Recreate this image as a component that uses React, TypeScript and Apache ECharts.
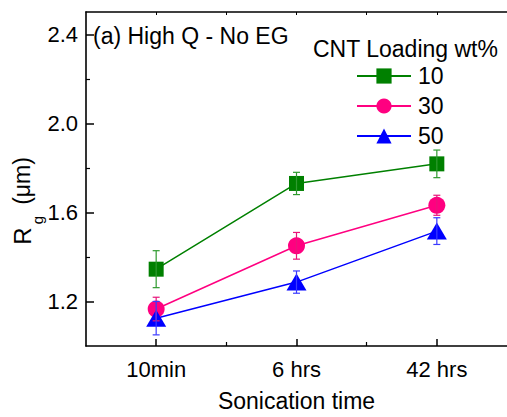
import React, { useEffect, useRef } from "react";
import * as echarts from "echarts";

const categories = ["10min", "6 hrs", "42 hrs"];
const seriesNames = ["10", "30", "50"];
const values10 = [1.345, 1.73, 1.818];
const errors10 = [0.083, 0.05, 0.062];
const values30 = [1.166, 1.45, 1.632];
const errors30 = [0.053, 0.06, 0.045];
const values50 = [1.125, 1.287, 1.516];
const errors50 = [0.075, 0.05, 0.06];
const yMajorTicks = [1.2, 1.6, 2.0, 2.4];
const yMinorTicks = [1.4, 1.8, 2.2];
const xMajorTicks = [1, 2, 3];
const xMinorTicks = [1.5, 2.5];

const FONT = "'Liberation Sans', Arial, sans-serif";
const colors = ["#008000", "#ff0080", "#0000ff"];
const errColors = ["#2f9a2f", "#e8147a", "#3a3aff"];

export default function App() {
  const ref = useRef<HTMLDivElement>(null);
  useEffect(() => {
    document.body.style.margin = "0";
    if (!ref.current) return;
    const chart = echarts.init(ref.current, null, { renderer: "svg" });
    const allVals = [values10, values30, values50];
    const allErrs = [errors10, errors30, errors50];
    const symbols = ["rect", "circle", "triangle"];
    const sizes: any[] = [15, 17, [20, 17]];

    const lineSeries = seriesNames.map((name, k) => ({
      type: "line",
      name,
      xAxisIndex: 0,
      yAxisIndex: 0,
      data: allVals[k].map((v, i) => [i + 1, v]),
      symbol: symbols[k],
      symbolSize: sizes[k],
      itemStyle: { color: colors[k] },
      lineStyle: { color: colors[k], width: 1.5 },
      z: 2,
    }));

    const errSeries = seriesNames.map((name, k) => ({
      type: "custom",
      name: "err" + name,
      xAxisIndex: 0,
      yAxisIndex: 0,
      silent: true,
      z: 4,
      encode: { x: 0, y: 1 },
      data: allVals[k].map((v, i) => [i + 1, v, allErrs[k][i]]),
      renderItem: (params: any, api: any) => {
        const x = api.value(0);
        const y = api.value(1);
        const e = api.value(2);
        const top = api.coord([x, y + e]);
        const bot = api.coord([x, y - e]);
        const w = 3.5;
        const st = { stroke: errColors[k], lineWidth: 1.2 };
        return {
          type: "group",
          children: [
            { type: "line", shape: { x1: top[0], y1: top[1], x2: bot[0], y2: bot[1] }, style: st },
            { type: "line", shape: { x1: top[0] - w, y1: top[1], x2: top[0] + w, y2: top[1] }, style: st },
            { type: "line", shape: { x1: bot[0] - w, y1: bot[1], x2: bot[0] + w, y2: bot[1] }, style: st },
          ],
        };
      },
    }));

    const axisLineStyle = { color: "#000", width: 1.6 };

    chart.setOption({
      animation: false,
      grid: { left: 86, top: 12, width: 423, height: 338, containLabel: false },
      xAxis: [
        {
          type: "value",
          min: 0.5,
          max: 3.5,
          position: "bottom",
          axisLine: { show: true, onZero: false, lineStyle: axisLineStyle },
          axisTick: { show: true, inside: true, length: 7, customValues: xMajorTicks, lineStyle: { color: "#000", width: 1.5 } },
          axisLabel: {
            show: true,
            customValues: xMajorTicks,
            margin: 12,
            color: "#000",
            fontSize: 22,
            fontFamily: FONT,
            formatter: (v: number) => categories[Math.round(v) - 1] ?? "",
          },
          splitLine: { show: false },
          name: "Sonication time",
          nameLocation: "middle",
          nameGap: 43,
          nameTextStyle: { color: "#000", fontSize: 23, fontFamily: FONT },
        },
        {
          type: "value",
          min: 0.5,
          max: 3.5,
          position: "bottom",
          axisLine: { show: false, onZero: false },
          axisTick: { show: true, inside: true, length: 4, customValues: xMinorTicks, lineStyle: { color: "#000", width: 1.2 } },
          axisLabel: { show: false },
          splitLine: { show: false },
        },
        {
          type: "value",
          min: 0.5,
          max: 3.5,
          position: "top",
          axisLine: { show: true, onZero: false, lineStyle: axisLineStyle },
          axisTick: { show: true, inside: true, length: 3, customValues: [...xMajorTicks, ...xMinorTicks], lineStyle: { color: "#000", width: 1 } },
          axisLabel: { show: false },
          splitLine: { show: false },
        },
      ],
      yAxis: [
        {
          type: "value",
          min: 1.0,
          max: 2.5,
          position: "left",
          axisLine: { show: true, onZero: false, lineStyle: axisLineStyle },
          axisTick: { show: true, inside: true, length: 8, customValues: yMajorTicks, lineStyle: { color: "#000", width: 1.5 } },
          axisLabel: {
            show: true,
            customValues: yMajorTicks,
            margin: 8,
            color: "#000",
            fontSize: 22,
            fontFamily: FONT,
            formatter: (v: number) => v.toFixed(1),
          },
          splitLine: { show: false },
        },
        {
          type: "value",
          min: 1.0,
          max: 2.5,
          position: "left",
          axisLine: { show: false, onZero: false },
          axisTick: { show: true, inside: true, length: 4, customValues: yMinorTicks, lineStyle: { color: "#000", width: 1.2 } },
          axisLabel: { show: false },
          splitLine: { show: false },
        },
      ],
      legend: {
        data: seriesNames,
        orient: "vertical",
        left: 356,
        top: 64.5,
        padding: 0,
        itemWidth: 54,
        itemHeight: 19,
        itemGap: 7,
        textStyle: { color: "#000", fontSize: 23, lineHeight: 23, fontFamily: FONT, padding: [0, 0, 0, 2] },
      },
      graphic: [
        {
          type: "text",
          left: 93,
          top: 24,
          style: { text: "(a) High Q - No EG", fill: "#000", font: `23px ${FONT}` },
        },
        {
          type: "text",
          left: 313,
          top: 37,
          style: { text: "CNT Loading wt%", fill: "#000", font: `23px ${FONT}` },
        },
        {
          type: "text",
          x: 22,
          y: 236,
          rotation: Math.PI / 2,
          style: { text: "R", fill: "#000", font: `24px ${FONT}`, align: "center", verticalAlign: "middle" },
        },
        {
          type: "text",
          x: 37,
          y: 220,
          rotation: Math.PI / 2,
          style: { text: "g", fill: "#000", font: `15px ${FONT}`, align: "center", verticalAlign: "middle" },
        },
        {
          type: "text",
          x: 22,
          y: 181,
          rotation: Math.PI / 2,
          style: { text: "(\u03bcm)", fill: "#000", font: `23px ${FONT}`, align: "center", verticalAlign: "middle" },
        },
      ],
      series: [...lineSeries, ...errSeries],
    });
    return () => chart.dispose();
  }, []);
  return <div ref={ref} style={{ width: 507, height: 417 }} />;
}
